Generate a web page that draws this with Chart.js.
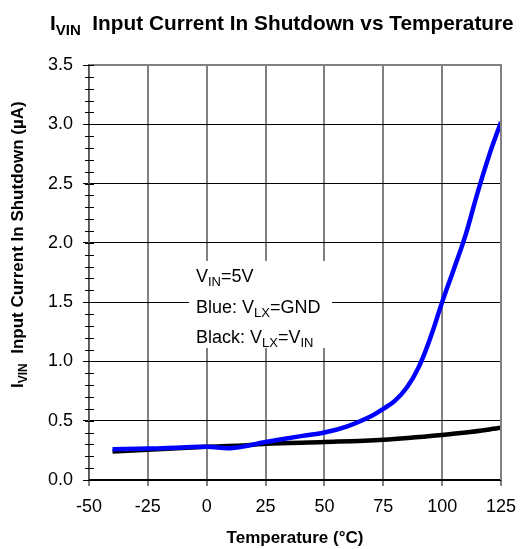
<!DOCTYPE html>
<html>
<head>
<meta charset="utf-8">
<script src="https://cdn.jsdelivr.net/npm/chart.js@4"></script>
<style>
  body { margin: 0; background: #fff; }
  canvas { display: block; }
</style>
</head>
<body>
<canvas id="grafik" width="532" height="549"></canvas>
<script>
// data
const suhuBiru = [-40, -25, -10, 0, 11, 25, 40, 50, 60, 70, 75, 80, 85, 90, 95, 100, 105, 110, 115, 120, 125];
const arusBiru = [0.26, 0.265, 0.275, 0.28, 0.27, 0.32, 0.37, 0.40, 0.455, 0.54, 0.60, 0.67, 0.78, 0.95, 1.2, 1.5, 1.78, 2.07, 2.42, 2.74, 3.02];
const suhuHitam = [-40, -25, 0, 15, 25, 50, 75, 100, 110, 125];
const arusHitam = [0.24, 0.255, 0.28, 0.29, 0.305, 0.32, 0.34, 0.38, 0.40, 0.44];
const tickX = [-50, -25, 0, 25, 50, 75, 100, 125];
const tickY = [0, 0.5, 1.0, 1.5, 2.0, 2.5, 3.0, 3.5];

const FONT = '"Liberation Sans", Arial, sans-serif';

// tulis teks dengan subskrip
function tulisTeks(ctx, bagian, x, y, ukuran, tebal) {
  let cx = x;
  bagian.forEach(p => {
    const s = p.sub ? Math.round(ukuran * 0.7) : ukuran;
    ctx.font = `${tebal} ${s}px ${FONT}`;
    ctx.fillText(p.t, cx, y + (p.sub ? ukuran * 0.22 : 0));
    cx += ctx.measureText(p.t).width;
  });
}

const hiasan = {
  id: 'hiasan',
  beforeDatasetsDraw(chart) {
    const ctx = chart.ctx;
    ctx.save();
    // kotak keterangan
    ctx.fillStyle = '#fff';
    ctx.fillRect(189, 261, 143, 87);
    ctx.fillStyle = '#000';
    ctx.textBaseline = 'alphabetic';
    tulisTeks(ctx, [{t: 'V'}, {t: 'IN', sub: true}, {t: '=5V'}], 196, 282, 18, 'normal');
    tulisTeks(ctx, [{t: 'Blue: V'}, {t: 'LX', sub: true}, {t: '=GND'}], 196, 313, 18, 'normal');
    tulisTeks(ctx, [{t: 'Black: V'}, {t: 'LX', sub: true}, {t: '=V'}, {t: 'IN', sub: true}], 196, 343, 18, 'normal');
    ctx.restore();
  },
  afterDraw(chart) {
    const ctx = chart.ctx;
    const a = chart.chartArea;
    const y = chart.scales.y;
    ctx.save();
    // garis tepi atas dan kanan
    ctx.strokeStyle = '#808080';
    ctx.lineWidth = 2;
    ctx.beginPath();
    ctx.moveTo(a.left, a.top);
    ctx.lineTo(a.right, a.top);
    ctx.lineTo(a.right, a.bottom);
    ctx.stroke();
    // tick kecil sumbu Y
    ctx.strokeStyle = '#000';
    ctx.lineWidth = 1;
    for (let i = 0; i <= 35; i++) {
      const py = Math.round(y.getPixelForValue(i / 10)) + 0.5;
      ctx.beginPath();
      ctx.moveTo(a.left - 4, py);
      ctx.lineTo(a.left + 5, py);
      ctx.stroke();
    }
    // judul
    ctx.fillStyle = '#000';
    ctx.textBaseline = 'alphabetic';
    tulisTeks(ctx, [{t: 'I'}, {t: 'VIN', sub: true}, {t: '  Input Current In Shutdown vs Temperature'}], 50, 30, 20.8, 'bold');
    // judul sumbu Y
    ctx.translate(23, 388);
    ctx.rotate(-Math.PI / 2);
    tulisTeks(ctx, [{t: 'I'}, {t: 'VIN', sub: true}, {t: '  Input Current In Shutdown (µA)'}], 0, 0, 17, 'bold');
    ctx.restore();
  }
};

new Chart(document.getElementById('grafik'), {
  type: 'line',
  data: {
    datasets: [
      {
        label: 'Blue: VLX=GND',
        data: suhuBiru.map((t, i) => ({x: t, y: arusBiru[i]})),
        borderColor: '#0000ff',
        borderWidth: 4.5,
        pointRadius: 0,
        tension: 0.4,
        fill: false
      },
      {
        label: 'Black: VLX=VIN',
        data: suhuHitam.map((t, i) => ({x: t, y: arusHitam[i]})),
        borderColor: '#000000',
        borderWidth: 4.5,
        pointRadius: 0,
        cubicInterpolationMode: 'monotone',
        fill: false
      }
    ]
  },
  options: {
    responsive: false,
    animation: false,
    devicePixelRatio: 1,
    layout: { padding: { top: 65, left: 0, right: 31, bottom: 0 } },
    plugins: { legend: { display: false }, tooltip: { enabled: false } },
    scales: {
      x: {
        type: 'linear',
        min: -50,
        max: 125,
        afterBuildTicks: s => { s.ticks = tickX.map(v => ({value: v})); },
        afterFit: s => { s.height = 69; },
        ticks: { color: '#000', font: { family: FONT, size: 18 }, padding: 10, maxRotation: 0 },
        grid: { color: '#808080', lineWidth: 2, tickLength: 6 },
        border: { color: '#000', width: 1.5 },
        title: {
          display: true,
          text: 'Temperature (°C)',
          color: '#000',
          font: { family: FONT, size: 17, weight: 'bold' },
          padding: { top: 0, bottom: 0 }
        }
      },
      y: {
        min: 0,
        max: 3.5,
        afterBuildTicks: s => { s.ticks = tickY.map(v => ({value: v})); },
        afterFit: s => { s.width = 89; },
        ticks: { color: '#000', font: { family: FONT, size: 18 }, padding: 10, callback: v => v.toFixed(1) },
        grid: { color: '#000', lineWidth: 1, tickLength: 6 },
        border: { color: '#555', width: 1.5 }
      }
    }
  },
  plugins: [hiasan]
});
</script>
</body>
</html>
